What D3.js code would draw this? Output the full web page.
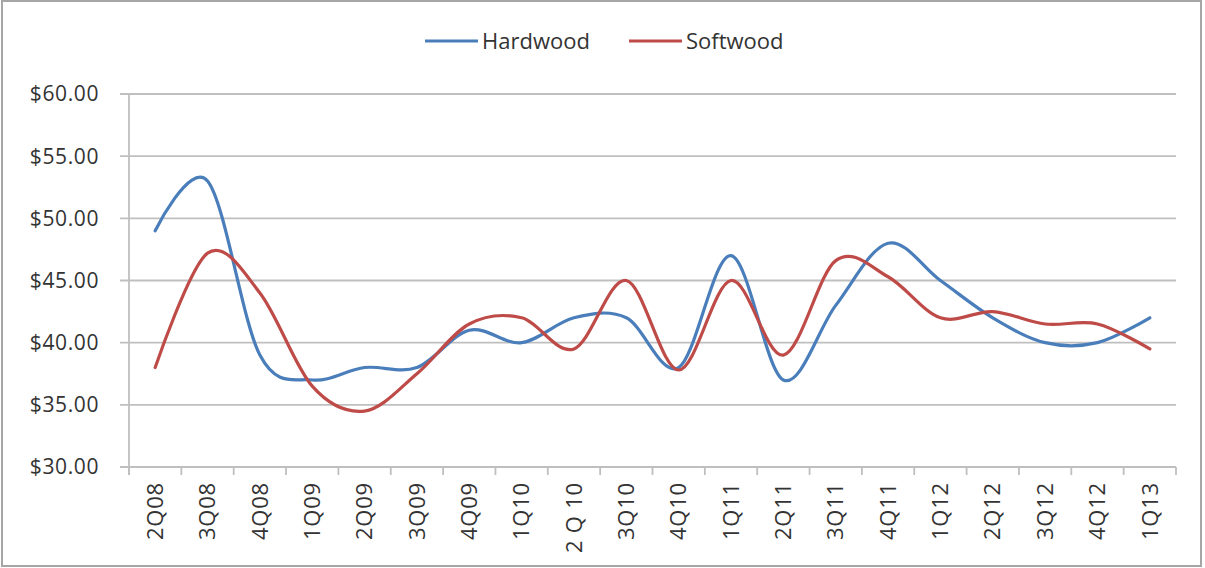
<!DOCTYPE html>
<html><head><meta charset="utf-8">
<script src="https://cdn.jsdelivr.net/npm/d3@7"></script>
<style>body{margin:0;background:#fff;}svg{display:block;font-family:"Open Sans",Lato,sans-serif;}</style>
</head><body><svg id="c" width="1205" height="568"></svg>
<script>
const categories = ["2Q08","3Q08","4Q08","1Q09","2Q09","3Q09","4Q09","1Q10","2 Q 10","3Q10","4Q10","1Q11","2Q11","3Q11","4Q11","1Q12","2Q12","3Q12","4Q12","1Q13"];
const hardwood = [49,53,39,37,38,38,41,40,42,42,38,47,37,43,48,45,42,40,40,42];
const softwood = [38,47.2,44,36.5,34.5,37.5,41.5,42,39.5,45,37.8,45,39,46.6,45.3,42,42.5,41.5,41.5,39.5];
const seriesNames = ["Hardwood","Softwood"];
const colors = ["#4a7ebb","#be4b48"];
const yTicks = [30,35,40,45,50,55,60];

const svg = d3.select("#c");
svg.append("rect").attr("x",2).attr("y",1).attr("width",1199).attr("height",565)
  .attr("fill","#fff").attr("stroke","#a6a6a6").attr("stroke-width",2);

const L=129,R=1176,T=94,B=467;
const x = d3.scaleBand().domain(categories).range([L,R]);
const y = d3.scaleLinear().domain([30,60]).range([B,T]);
const txt = "#333333";

// gridlines
svg.append("g").selectAll("line").data(yTicks).join("line")
  .attr("x1",L-9).attr("x2",R).attr("y1",d=>y(d)).attr("y2",d=>y(d))
  .attr("stroke","#bfbfbf").attr("stroke-width",1.8);
// y axis line
svg.append("line").attr("x1",L).attr("x2",L).attr("y1",T).attr("y2",B+8)
  .attr("stroke","#bfbfbf").attr("stroke-width",1.8);
// y labels
svg.append("g").selectAll("text").data(yTicks).join("text")
  .attr("x",99).attr("y",d=>y(d)).attr("dy","0.35em").attr("text-anchor","end")
  .attr("font-size",21).attr("letter-spacing",0.6).attr("fill",txt).text(d=>"$"+d.toFixed(2));
// x ticks
const bounds = categories.map(c=>x(c)).concat([R]);
svg.append("g").selectAll("line").data(bounds).join("line")
  .attr("x1",d=>d).attr("x2",d=>d).attr("y1",B).attr("y2",B+8)
  .attr("stroke","#bfbfbf").attr("stroke-width",1.8);
// x labels
svg.append("g").selectAll("text").data(categories).join("text")
  .attr("transform",d=>`translate(${x(d)+x.bandwidth()/2},482) rotate(-90)`)
  .attr("dy","0.35em").attr("text-anchor","end")
  .attr("font-size",22).attr("letter-spacing",0.8).attr("fill",txt).text(d=>d);

// lines
const line = d3.line().x((d,i)=>x(categories[i])+x.bandwidth()/2).y(d=>y(d)).curve(d3.curveCardinal.tension(0));
[hardwood,softwood].forEach((s,k)=>{
  svg.append("path").datum(s).attr("d",line).attr("fill","none")
    .attr("stroke",colors[k]).attr("stroke-width",3.2).attr("stroke-linecap","round");
});

// legend
const lx=[425,629];
seriesNames.forEach((n,k)=>{
  svg.append("line").attr("x1",lx[k]).attr("x2",lx[k]+53).attr("y1",41).attr("y2",41)
    .attr("stroke",colors[k]).attr("stroke-width",3.2);
  svg.append("text").attr("x",lx[k]+57).attr("y",41).attr("dy","0.35em")
    .attr("font-size",22).attr("fill",txt).text(n);
});
</script></body></html>
